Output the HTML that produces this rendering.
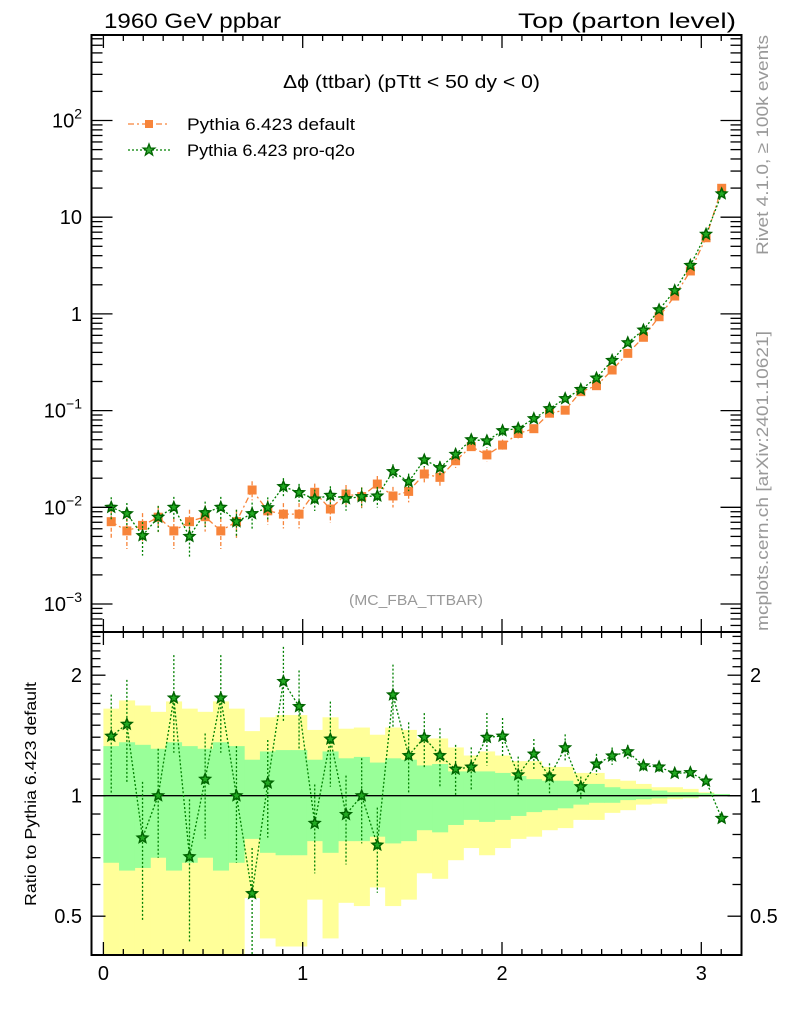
<!DOCTYPE html>
<html><head><meta charset="utf-8"><style>
body{margin:0;background:#fff;}
svg{display:block;font-family:"Liberation Sans",sans-serif;}
</style></head><body>
<svg id="chart" width="786" height="1024" viewBox="0 0 786 1024">
<rect width="786" height="1024" fill="#fff"/>
<text x="104" y="28" font-size="21" textLength="177" lengthAdjust="spacingAndGlyphs">1960 GeV ppbar</text>
<text x="736" y="28" font-size="21" text-anchor="end" textLength="218" lengthAdjust="spacingAndGlyphs">Top (parton level)</text>
<text x="283" y="88" font-size="18" textLength="257" lengthAdjust="spacingAndGlyphs">Δϕ (ttbar) (pTtt &lt; 50 dy &lt; 0)</text>
<text x="349" y="605" font-size="15" fill="#999" textLength="134" lengthAdjust="spacingAndGlyphs">(MC_FBA_TTBAR)</text>
<text transform="translate(768,255) rotate(-90)" font-size="17" fill="#999" textLength="220" lengthAdjust="spacingAndGlyphs">Rivet 4.1.0, ≥ 100k events</text>
<text transform="translate(768,631) rotate(-90)" font-size="17" fill="#999" textLength="300" lengthAdjust="spacingAndGlyphs">mcplots.cern.ch [arXiv:2401.10621]</text>
<text transform="translate(36,906) rotate(-90)" font-size="16" textLength="224" lengthAdjust="spacingAndGlyphs">Ratio to Pythia 6.423 default</text>
<g>
<g>
<line x1="128" y1="124" x2="170" y2="124" stroke="#f7843a" stroke-width="1.3" stroke-dasharray="6,3,2,3"/>
<rect x="145" y="120" width="8" height="8" fill="#f7843a"/>
<text x="187" y="130" font-size="17" textLength="168" lengthAdjust="spacingAndGlyphs">Pythia 6.423 default</text></g>
<g>
<line x1="128" y1="150" x2="170" y2="150" stroke="#008000" stroke-width="1.3" stroke-dasharray="2,2"/>
<path d="M149,144 L150.5,148 L154.8,148.1 L151.4,150.8 L152.6,155 L149,152.5 L145.4,155 L146.6,150.8 L143.2,148.1 L147.5,148 Z" fill="#3a3" stroke="#006400" stroke-width="1.3"/>
<text x="187" y="156" font-size="17" textLength="168" lengthAdjust="spacingAndGlyphs">Pythia 6.423 pro-q2o</text></g>
</g>
<g id="plot"></g>
</svg>
<script>
const nBins = 40, binWidth = Math.PI/40;
const defaultVals = [0.0071,0.0057,0.0065,0.0079,0.0057,0.0071,0.0080,0.0057,0.0071,0.0151,0.0092,0.0085,0.0085,0.0143,0.0096,0.0137,0.0129,0.0174,0.0131,0.0146,0.0221,0.0204,0.0303,0.0424,0.0348,0.044,0.058,0.065,0.094,0.101,0.157,0.181,0.263,0.391,0.573,0.935,1.53,2.78,6.13,19.9];
const proq2oVals = [0.0100,0.0086,0.0051,0.0079,0.0100,0.0050,0.0088,0.0100,0.0071,0.0086,0.0099,0.0164,0.0142,0.0122,0.0133,0.0123,0.0129,0.0131,0.0234,0.0184,0.0309,0.0257,0.0353,0.0500,0.0487,0.0620,0.0654,0.0826,0.1048,0.1331,0.1653,0.2172,0.3306,0.5036,0.6807,1.103,1.741,3.175,6.669,17.47];
const proq2oRelUp = [0.27,0.29,0.38,0.31,0.28,0.39,0.30,0.28,0.33,0.30,0.28,0.22,0.23,0.25,0.24,0.25,0.24,0.24,0.19,0.21,0.15,0.17,0.15,0.12,0.15,0.11,0.11,0.09,0.08,0.08,0.06,0.06,0.05,0.04,0.03,0.03,0.02,0.02,0.015,0.01];
const proq2oRelDn = [0.28,0.29,0.38,0.30,0.27,0.39,0.29,0.27,0.32,0.30,0.27,0.21,0.22,0.25,0.24,0.25,0.24,0.24,0.17,0.20,0.16,0.17,0.14,0.13,0.15,0.11,0.11,0.09,0.09,0.07,0.07,0.06,0.05,0.04,0.03,0.03,0.02,0.02,0.015,0.01];
const bandYellowHi = [1.65,1.73,1.68,1.62,1.72,1.65,1.62,1.72,1.65,1.45,1.57,1.59,1.59,1.46,1.57,1.47,1.48,1.42,1.48,1.46,1.39,1.39,1.32,1.26,1.29,1.26,1.22,1.22,1.18,1.18,1.14,1.14,1.10,1.09,1.07,1.05,1.05,1.04,1.02,1.01];
const bandGreenHi = [1.33,1.36,1.34,1.31,1.36,1.33,1.31,1.36,1.33,1.23,1.29,1.30,1.30,1.23,1.29,1.24,1.25,1.21,1.24,1.23,1.19,1.20,1.15,1.15,1.15,1.14,1.12,1.10,1.09,1.09,1.07,1.07,1.05,1.04,1.04,1.03,1.02,1.02,1.015,1.01];
const bandGreenLo = [0.68,0.65,0.66,0.70,0.65,0.68,0.70,0.65,0.68,0.78,0.72,0.71,0.71,0.77,0.72,0.77,0.77,0.79,0.76,0.77,0.82,0.81,0.845,0.87,0.86,0.87,0.89,0.91,0.92,0.93,0.95,0.96,0.96,0.975,0.98,0.985,0.99,0.99,0.995,0.998];
const bandYellowLo = [0.30,0.30,0.30,0.30,0.30,0.30,0.30,0.30,0.30,0.555,0.44,0.42,0.42,0.55,0.44,0.54,0.53,0.59,0.53,0.55,0.64,0.62,0.69,0.74,0.71,0.74,0.78,0.79,0.82,0.83,0.87,0.87,0.906,0.92,0.95,0.955,0.98,0.985,0.995,0.998];
const xTickLabels = ["0","1","2","3"];
const yMainTickLabels = [["10","−3"],["10","−2"],["10","−1"],["1",""],["10",""],["10","2"]];
const yRatioTickLabels = ["0.5","1","2"];

const NS="http://www.w3.org/2000/svg";
const plot=document.getElementById('plot');
const L=91.5,R=741.5,MT=35,MB=632,RB=955;
const X=v=>103.4+199.3*v;
const YM=v=>507.3-96.7*(Math.log10(v)+2);
const YR=r=>795.7-120.5*Math.log2(r);
function mk(tag,attrs,parent){const e=document.createElementNS(NS,tag);for(const k in attrs)e.setAttribute(k,attrs[k]);(parent||plot).appendChild(e);return e;}
const clipM=mk('clipPath',{id:'cm'});mk('rect',{x:L,y:MT,width:R-L,height:MB-MT},clipM);
const clipR=mk('clipPath',{id:'cr'});mk('rect',{x:L,y:MB,width:R-L,height:RB-MB},clipR);
const gR=mk('g',{'clip-path':'url(#cr)'});


const gM=mk('g',{'clip-path':'url(#cm)'});



for(let i=0;i<nBins;i++){
  const x0=X(i*binWidth),x1=X((i+1)*binWidth);
  const y=mk('rect',{x:x0,y:YR(bandYellowHi[i]),width:x1-x0+0.4,height:YR(bandYellowLo[i])-YR(bandYellowHi[i]),fill:'#ffff99'},gR);
  
  
}
for(let i=0;i<nBins;i++){
  const x0=X(i*binWidth),x1=X((i+1)*binWidth);
  const g=mk('rect',{x:x0,y:YR(bandGreenHi[i]),width:x1-x0+0.4,height:YR(bandGreenLo[i])-YR(bandGreenHi[i]),fill:'#99ff99'},gR);
  
  
}
const one=mk('line',{x1:L,x2:R,y1:YR(1),y2:YR(1),stroke:'#000','stroke-width':1.3},gR);



function star(cx,cy,r,parent){
  let d='';for(let k=0;k<10;k++){const a=-Math.PI/2+k*Math.PI/5;const rr=k%2?r*0.45:r;d+=(k?'L':'M')+(cx+rr*Math.cos(a)).toFixed(2)+','+(cy+rr*Math.sin(a)).toFixed(2);}
  return mk('path',{d:d+'Z',fill:'#2a2',stroke:'#006400','stroke-width':1.5},parent);
}
const cx=i=>X((i+0.5)*binWidth);

const ratioVals=proq2oVals.map((v,i)=>v/defaultVals[i]);
let pd='';
ratioVals.forEach((r,i)=>{pd+=(i?'L':'M')+cx(i)+','+YR(r);});
const rl=mk('path',{d:pd,fill:'none',stroke:'#008000','stroke-width':1.3,'stroke-dasharray':'2,2'},gR);


ratioVals.forEach((r,i)=>{
  const eb=mk('line',{x1:cx(i),x2:cx(i),y1:YR(r*(1+proq2oRelUp[i])),y2:YR(r*(1-proq2oRelDn[i])),stroke:'#008000','stroke-width':1.3,'stroke-dasharray':'2,2'},gR);
  
  
  const s=star(cx(i),YR(r),5.5,gR);
  
  
});

pd='';
defaultVals.forEach((v,i)=>{pd+=(i?'L':'M')+cx(i)+','+YM(v);});
const dl=mk('path',{d:pd,fill:'none',stroke:'#f7843a','stroke-width':1.3,'stroke-dasharray':'6,3,2,3'},gM);


defaultVals.forEach((v,i)=>{
  const eb=mk('line',{x1:cx(i),x2:cx(i),y1:YM(v*bandGreenHi[i]),y2:YM(v*bandGreenLo[i]),stroke:'#f7843a','stroke-width':1.3,'stroke-dasharray':'4,2'},gM);
  
  
  const m=mk('rect',{x:cx(i)-4.5,y:YM(v)-4.5,width:9,height:9,fill:'#f7843a'},gM);
  
  
});
pd='';
proq2oVals.forEach((v,i)=>{pd+=(i?'L':'M')+cx(i)+','+YM(v);});
const gl=mk('path',{d:pd,fill:'none',stroke:'#008000','stroke-width':1.3,'stroke-dasharray':'2,2'},gM);


proq2oVals.forEach((v,i)=>{
  const eb=mk('line',{x1:cx(i),x2:cx(i),y1:YM(v*(1+proq2oRelUp[i])),y2:YM(v*(1-proq2oRelDn[i])),stroke:'#008000','stroke-width':1.3,'stroke-dasharray':'2,2'},gM);
  
  
  const s=star(cx(i),YM(v),5.5,gM);
  
  
});

const f1=mk('rect',{x:L,y:MT,width:R-L,height:MB-MT,fill:'none',stroke:'#000','stroke-width':2});


const f2=mk('rect',{x:L,y:MB,width:R-L,height:RB-MB,fill:'none',stroke:'#000','stroke-width':2});



const tk=mk('g',{stroke:'#000','stroke-width':1.3});


for(let k=0;k<=32;k++){
  const x=X(k/10);if(x>R)break;const maj=k%10===0;const len=maj?13:6;
  [[MT,1],[MB,-1],[MB,1],[RB,-1]].forEach(([y,d])=>mk('line',{x1:x,x2:x,y1:y,y2:y+d*len},tk));
}
xTickLabels.forEach((t,i)=>{
  const e=mk('text',{x:X(i),y:980,'font-size':20,'text-anchor':'middle'});e.textContent=t;
  
  
});
for(let e=-4;e<=3;e++){
  for(let m=1;m<10;m++){
    const y=YM(m*Math.pow(10,e));if(y<MT||y>MB)continue;const len=m===1?21:11;
    mk('line',{x1:L,x2:L+len,y1:y,y2:y},tk);mk('line',{x1:R,x2:R-len,y1:y,y2:y},tk);
  }
}
yMainTickLabels.forEach((t,i)=>{
  const e=mk('text',{x:82,y:YM(Math.pow(10,i-3))+7,'font-size':20,'text-anchor':'end'});
  
  
  e.textContent=t[0];
  if(t[1]){const ts=mk('tspan',{'font-size':14,dy:-9},e);ts.textContent=t[1];}
});
for(let k=3;k<=25;k++){
  const r=k/10;const y=YR(r);if(y<MB||y>RB)continue;const maj=(k===5||k===10||k===20);const len=maj?14:9;
  mk('line',{x1:L,x2:L+len,y1:y,y2:y},tk);mk('line',{x1:R,x2:R-len,y1:y,y2:y},tk);
}
[0.5,1,2].forEach((r,i)=>{
  const a=mk('text',{x:82,y:YR(r)+7,'font-size':20,'text-anchor':'end'});a.textContent=yRatioTickLabels[i];
  
  
  const b=mk('text',{x:750,y:YR(r)+7,'font-size':20});b.textContent=yRatioTickLabels[i];
  
  
});
</script>
</body></html>
